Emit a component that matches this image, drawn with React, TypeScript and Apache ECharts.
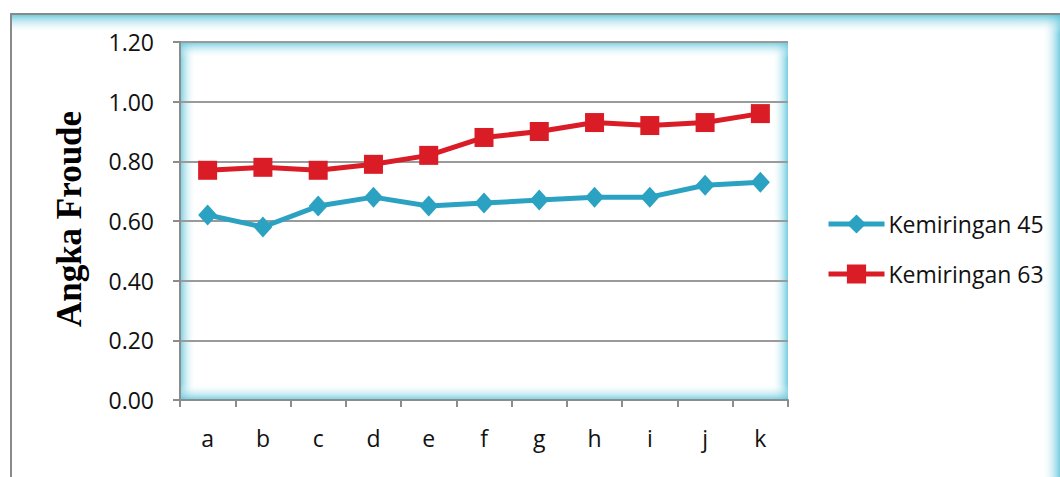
import React, { useEffect, useRef } from "react";
import * as echarts from "echarts";

const categories = ["a", "b", "c", "d", "e", "f", "g", "h", "i", "j", "k"];
const kemiringan45 = [0.62, 0.58, 0.65, 0.68, 0.65, 0.66, 0.67, 0.68, 0.68, 0.72, 0.73];
const kemiringan63 = [0.77, 0.78, 0.77, 0.79, 0.82, 0.88, 0.90, 0.93, 0.92, 0.93, 0.96];
const seriesNames = ["Kemiringan 45", "Kemiringan 63"];
const yAxisTitle = "Angka Froude";

const W = 1060;
const H = 477;
const PLOT = { left: 180, top: 42, right: 788, bottom: 400 };
const GLOW = "rgba(92,196,218,0.85)";
const BLUE = "#2CA2C2";
const RED = "#DA1C27";
const FONT = "Open Sans";

function fade(x: number, y: number, x2: number, y2: number) {
  return new echarts.graphic.LinearGradient(x, y, x2, y2, [
    { offset: 0, color: GLOW },
    { offset: 1, color: "rgba(255,255,255,0)" },
  ]);
}

export default function App() {
  const ref = useRef<HTMLDivElement>(null);

  useEffect(() => {
    if (!ref.current) return;
    const chart = echarts.init(ref.current, undefined, { renderer: "svg" });
    const pw = PLOT.right - PLOT.left;
    const ph = PLOT.bottom - PLOT.top;
    const g = 16;

    chart.setOption({
      animation: false,
      backgroundColor: "#fff",
      graphic: [
        // outer frame with a soft inner glow along the top and right
        { type: "rect", z: -10, silent: true, shape: { x: W - 18, y: 15, width: 18, height: H }, style: { fill: fade(1, 0, 0, 0) } },
        { type: "rect", z: -10, silent: true, shape: { x: 12, y: 15, width: W, height: 18 }, style: { fill: fade(0, 0, 0, 1) } },
        { type: "rect", z: -9, silent: true, shape: { x: 11, y: 14, width: W + 20, height: H + 20 }, style: { fill: "none", stroke: "#8a8a8a", lineWidth: 2 } },
        // plot area glow
        { type: "rect", z: -5, silent: true, shape: { x: PLOT.left, y: PLOT.top, width: g, height: ph }, style: { fill: fade(0, 0, 1, 0) } },
        { type: "rect", z: -5, silent: true, shape: { x: PLOT.right - g, y: PLOT.top, width: g, height: ph }, style: { fill: fade(1, 0, 0, 0) } },
        { type: "rect", z: -5, silent: true, shape: { x: PLOT.left, y: PLOT.top, width: pw, height: g }, style: { fill: fade(0, 0, 0, 1) } },
        { type: "rect", z: -5, silent: true, shape: { x: PLOT.left, y: PLOT.bottom - g, width: pw, height: g }, style: { fill: fade(0, 1, 0, 0) } },
        {
          type: "text",
          x: 69,
          y: 219,
          rotation: Math.PI / 2,
          style: {
            text: yAxisTitle,
            font: 'bold 35px "Liberation Serif", "Times New Roman", serif',
            fill: "#000",
            align: "center",
            verticalAlign: "middle",
          },
        },
      ],
      grid: {
        left: PLOT.left,
        top: PLOT.top,
        right: W - PLOT.right,
        bottom: H - PLOT.bottom,
      },
      legend: {
        orient: "vertical",
        left: 826,
        top: 212,
        padding: 0,
        itemWidth: 56,
        itemHeight: 24,
        itemGap: 26,
        lineStyle: { width: 5 },
        textStyle: { fontFamily: FONT, fontSize: 23, lineHeight: 24, color: "#111", padding: [0, 0, 0, -1] },
        data: seriesNames,
      },
      xAxis: {
        type: "category",
        data: categories,
        boundaryGap: true,
        axisLine: { lineStyle: { color: "#8c8c8c", width: 2 } },
        axisTick: { show: true, length: 7, lineStyle: { color: "#8c8c8c", width: 2 } },
        axisLabel: { margin: 26, fontFamily: FONT, fontSize: 23, color: "#111" },
        splitLine: { show: false },
      },
      yAxis: {
        type: "value",
        min: 0,
        max: 1.2,
        interval: 0.2,
        axisLine: { show: true, lineStyle: { color: "#8c8c8c", width: 2 } },
        axisTick: { show: true, length: 7, lineStyle: { color: "#8c8c8c", width: 2 } },
        axisLabel: {
          margin: 26,
          fontFamily: FONT,
          fontSize: 23,
          color: "#111",
          formatter: (v: number) => v.toFixed(2),
        },
        splitLine: { show: true, lineStyle: { color: "#9a9a9a", width: 2 } },
      },
      series: [
        {
          name: seriesNames[0],
          type: "line",
          data: kemiringan45,
          symbol: "diamond",
          symbolSize: [19, 21],
          lineStyle: { color: BLUE, width: 5 },
          itemStyle: { color: BLUE },
        },
        {
          name: seriesNames[1],
          type: "line",
          data: kemiringan63,
          symbol: "rect",
          symbolSize: 19,
          lineStyle: { color: RED, width: 5 },
          itemStyle: { color: RED },
        },
      ],
    });

    return () => chart.dispose();
  }, []);

  return (
    <div
      ref={ref}
      style={{ position: "absolute", left: 0, top: 0, width: W, height: H }}
    />
  );
}
